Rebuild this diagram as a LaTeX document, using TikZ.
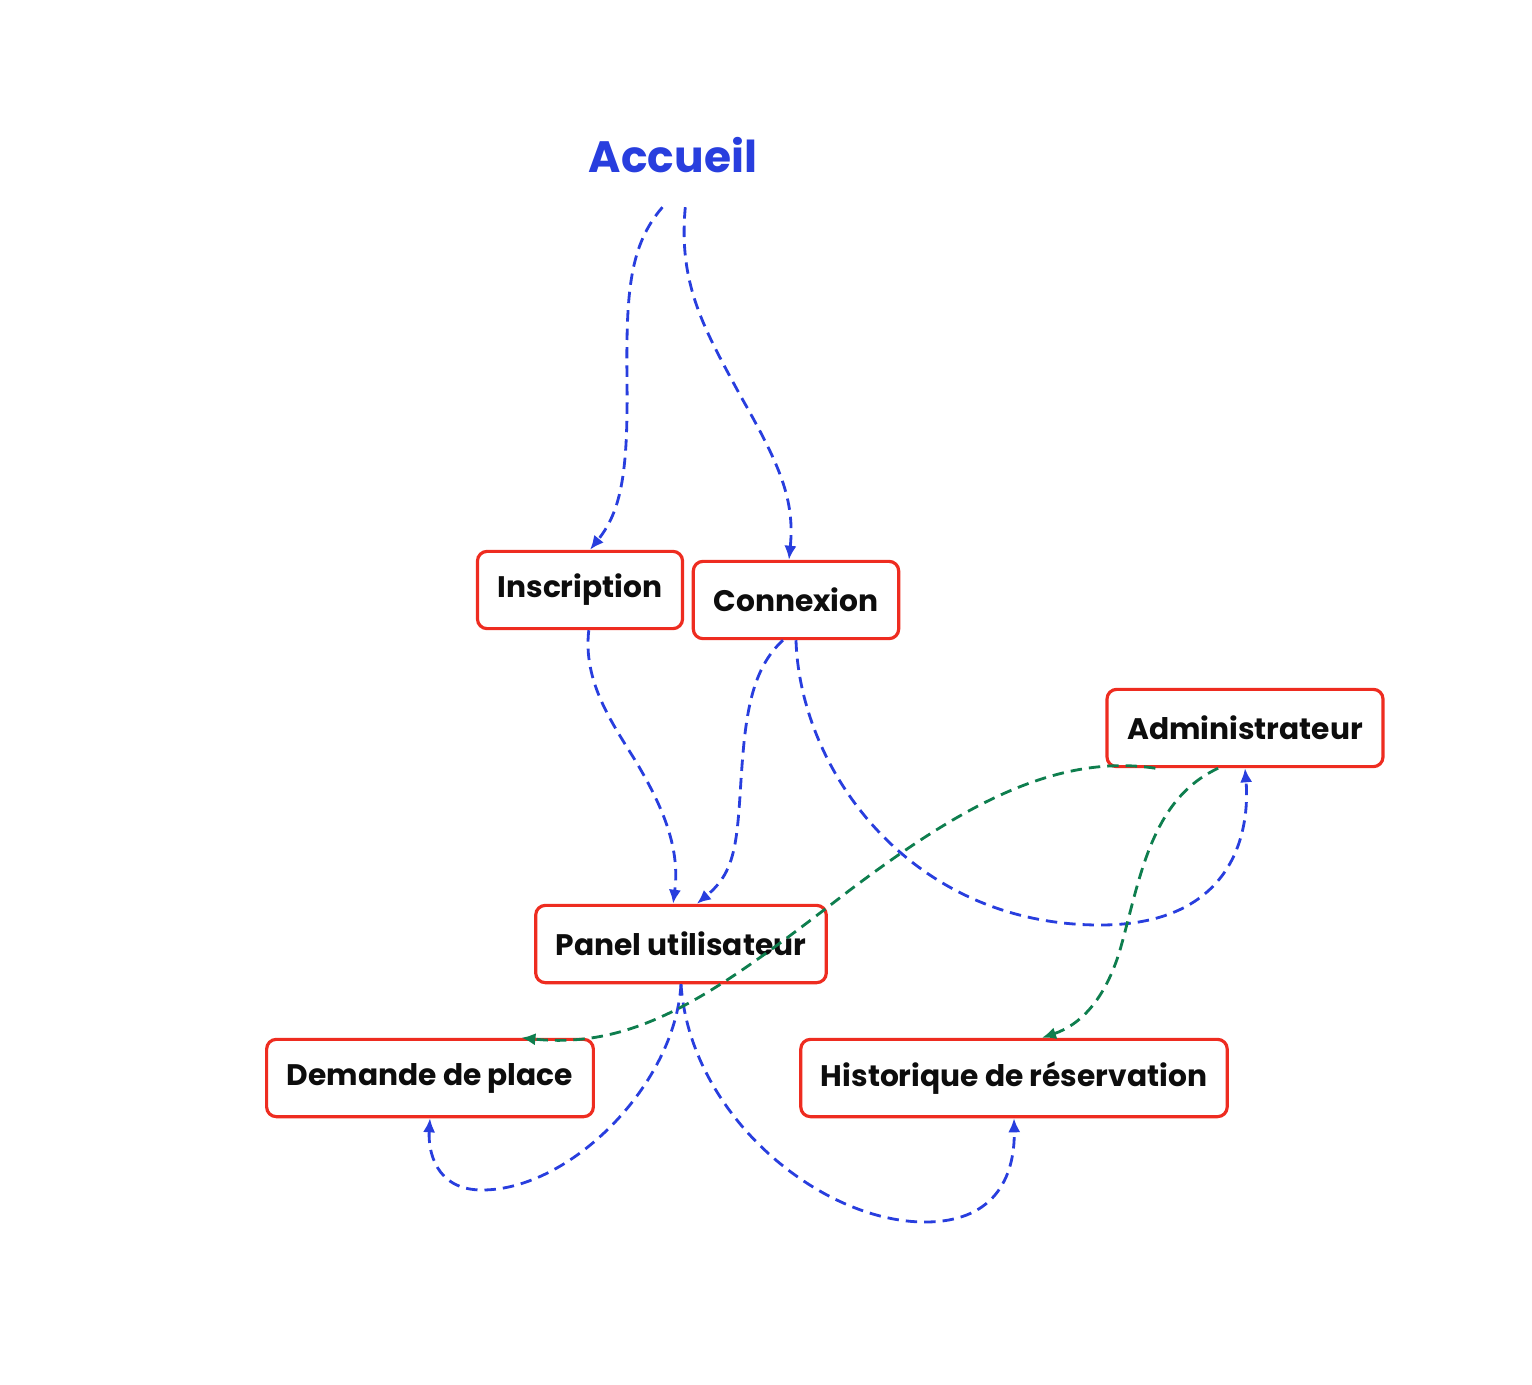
\documentclass[tikz,border=0pt]{standalone}
\usepackage{fontspec}
\setmainfont{Poppins}
\usetikzlibrary{arrows.meta}

\definecolor{bleu}{RGB}{40,62,222}
\definecolor{rouge}{RGB}{238,44,32}
\definecolor{vert}{RGB}{14,126,78}

\tikzset{
  page/.style = {draw=rouge, line width=1.8pt, rounded corners=5.5pt, fill=white,
                 inner xsep=11.5pt, minimum height=44pt,
                 font=\fontsize{16.9}{20}\selectfont\bfseries, text=black!95},
  lien/.style = {draw=bleu, line width=1.6pt, dash pattern=on 6.5pt off 4pt,
                 -{Latex[length=8pt,width=7pt]}},
  lienadmin/.style = {lien, draw=vert}
}

\begin{document}
\begin{tikzpicture}[x=0.02cm, y=-0.02cm]
   \useasboundingbox (0,0) rectangle (1532,1384);
   \node[text=bleu, font=\fontsize{25}{30}\selectfont\bfseries, minimum height=59pt] (accueil) at (673,155) {Accueil};
   \node[page] (inscription) at (580,590) {Inscription};
   \node[page] (connexion) at (796,600) {Connexion};
   \node[page] (admin) at (1245,728) {Administrateur};
   \node[page] (panel) at (681,944) {Panel utilisateur};
   \node[page] (demande) at (430,1078) {Demande de place};
   \node[page] (historique) at (1014,1078) {Historique de réservation};

   % depuis l'accueil
   \draw[lien] ([xshift=-6pt]accueil.south) .. controls (630,245) and (626,290) .. (627,380)
      .. controls (628,470) and (622,510) .. ([xshift=5.7pt]inscription.north);
   \draw[lien] ([xshift=7pt]accueil.south) .. controls (678,285) and (705,330) .. (740,395)
      .. controls (780,465) and (795,500) .. ([xshift=-4pt]connexion.north);

   % vers le panel
   \draw[lien] ([xshift=5pt]inscription.south) .. controls (583,680) and (610,720) .. (635,760)
      .. controls (665,810) and (680,850) .. ([xshift=-4.5pt]panel.north);
   \draw[lien] ([xshift=-7.4pt]connexion.south) .. controls (750,670) and (745,720) .. (741,780)
      .. controls (737,845) and (735,872) .. ([xshift=9pt]panel.north);
   \draw[lien] (connexion.south) .. controls (800,770) and (910,925) .. (1100,925)
      .. controls (1235,925) and (1250,830) .. (admin.south);

   % depuis le panel
   \draw[lien] (panel.south) .. controls (675,1085) and (570,1190) .. (482,1190)
      .. controls (435,1190) and (428,1150) .. (demande.south);
   \draw[lien] (panel.south) .. controls (690,1115) and (820,1222) .. (925,1222)
      .. controls (1000,1222) and (1015,1170) .. (historique.south);

   % depuis l'administrateur
   \draw[lienadmin] ([xshift=-51pt]admin.south) .. controls (1050,752) and (950,815) .. (850,890)
      .. controls (720,990) and (640,1050) .. ([xshift=52pt]demande.north);
   \draw[lienadmin] ([xshift=-15.3pt]admin.south) .. controls (1150,800) and (1140,880) .. (1120,950)
      .. controls (1105,1000) and (1080,1025) .. ([xshift=15.9pt]historique.north);
\end{tikzpicture}
\end{document}
